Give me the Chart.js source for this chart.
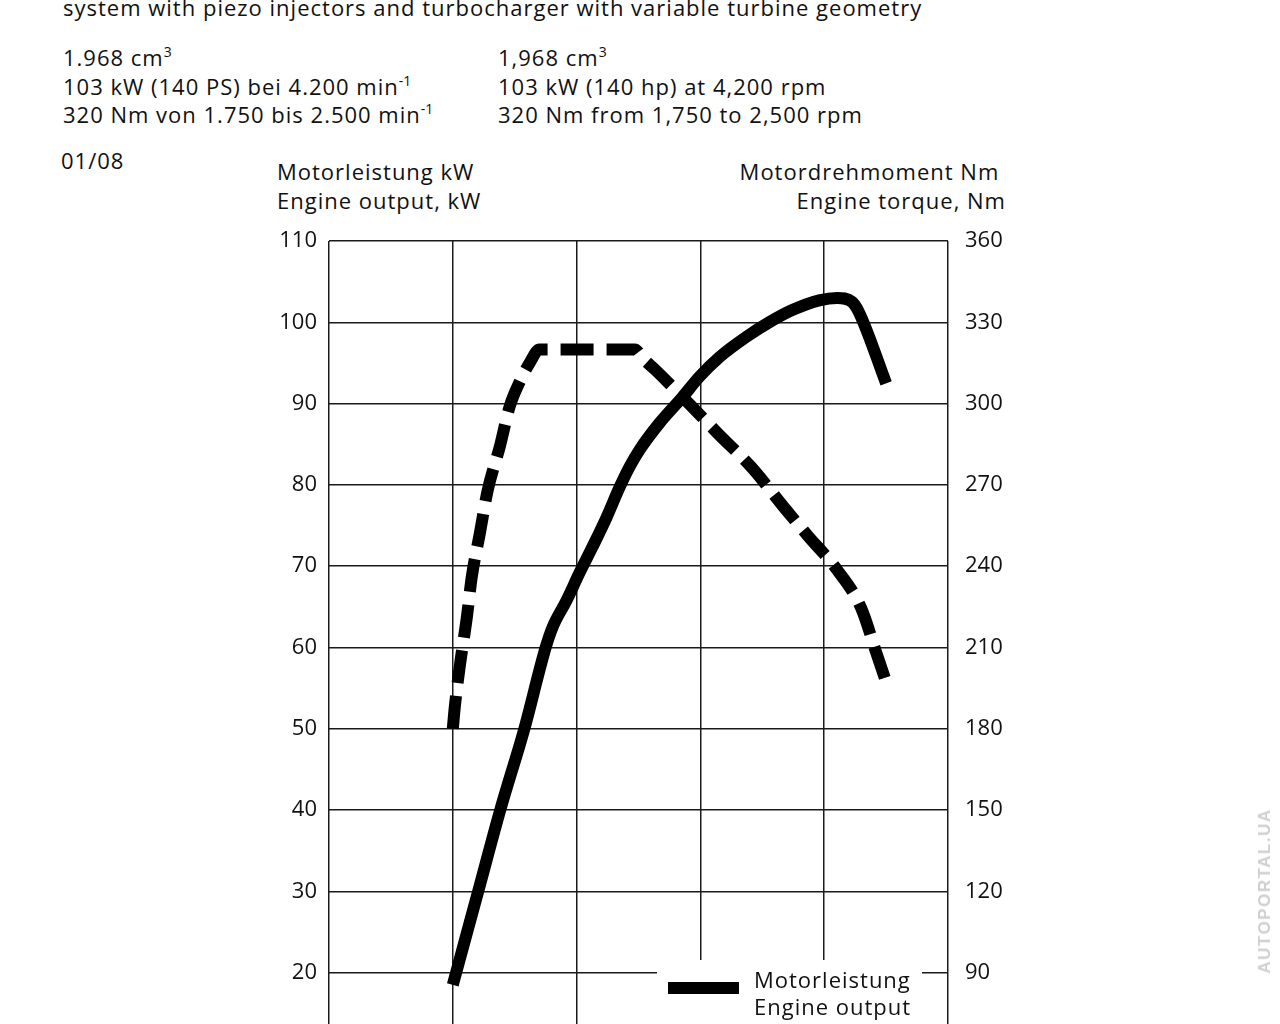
<!DOCTYPE html>
<html>
  <head>
    <script src="https://cdn.jsdelivr.net/npm/chart.js@4.4.0/dist/chart.umd.min.js"></script>
    <style>
      body { margin: 0; width: 1280px; height: 1024px; overflow: hidden; background: #fff; color: #111;
             font-family: 'Open Sans', sans-serif; }
      .t { position: absolute; font-size: 22px; line-height: 28.5px; white-space: nowrap; letter-spacing: 1px; }
      sup { font-size: 14px; line-height: 0; vertical-align: 9px; letter-spacing: 0; }
      #wrap { position: absolute; left: 0; top: 0; width: 1280px; height: 1120px; }
      #mark { position: absolute; left: 1265px; top: 891px; transform: translate(-50%, -50%) rotate(-90deg);
              font-family: 'Liberation Sans Narrow', 'Liberation Sans', sans-serif; font-weight: bold; font-size: 17px;
              letter-spacing: 1.5px; color: #cfcfcf; white-space: nowrap; }
    </style>
  </head>
  <body>
    <div class="t" style="left:63px; top:-7px;">system with piezo injectors and turbocharger with variable turbine geometry</div>
    <div class="t" style="left:63px; top:43px;">1.968 cm<sup>3</sup><br>103 kW (140 PS) bei 4.200 min<sup>-1</sup><br>320 Nm von 1.750 bis 2.500 min<sup>-1</sup></div>
    <div class="t" style="left:498px; top:43px;">1,968 cm<sup>3</sup><br>103 kW (140 hp) at 4,200 rpm<br>320 Nm from 1,750 to 2,500 rpm</div>
    <div class="t" style="left:61px; top:146px;">01/08</div>
    <div class="t" style="left:277px; top:157px; line-height:29px;">Motorleistung kW<br>Engine output, kW</div>
    <div class="t" style="right:274px; top:157px; line-height:29px; text-align:right;">Motordrehmoment Nm&nbsp;<br>Engine torque, Nm</div>
    <div id="wrap"><canvas id="engineChart"></canvas></div>
    <div id="mark">AUTOPORTAL.UA</div>
    <script>
      // engine speed, rpm
      var powerRpm = [1000, 1205, 1383, 1578, 1750, 1806, 1919, 2024, 2129, 2242, 2347, 2427, 2508, 2669,
                      2855, 2992, 3153, 3371, 3556, 3742, 3960, 4105, 4226, 4282, 4500];
      // engine output, kW
      var powerKw = [18.5, 30, 40, 50, 60, 62.5, 65.8, 69.2, 72.4, 76, 79.7, 82.2, 84.3, 87.6,
                     90.8, 93.3, 95.7, 98.2, 100, 101.5, 102.7, 103, 102.5, 101.2, 92.5];

      var torqueRpm = [1000, 1016, 1056, 1113, 1153, 1218, 1282, 1379, 1460, 1540, 1621, 1700,
                       2470, 2540, 2637, 2895, 3145, 3411, 3694, 3863, 4105, 4298, 4419, 4500];
      // engine torque, Nm
      var torqueNm = [180, 188, 203, 221, 236, 252, 268, 284, 299, 308, 315, 320,
                      320, 316.5, 312.4, 300.6, 288.8, 276.6, 260.7, 251.5, 238.6, 224.6, 208.3, 197.3];

      var kwTicks = [10, 110, 10];      // min, max, step
      var nmTicks = [60, 360, 30];
      var rpmTicks = [0, 5000, 1000];

      var legendLabels = [['Motorleistung', 'Engine output'], ['Motordrehmoment', 'Engine torque']];

      function toPoints(xs, ys) {
        return xs.map(function (x, i) { return { x: x, y: ys[i] }; });
      }

      // white legend box in the lower right corner of the plot
      var legendBox = {
        id: 'legendBox',
        afterDatasetsDraw: function (chart) {
          var ctx = chart.ctx;
          var area = chart.chartArea;
          var left = area.right - 291;
          var top = area.bottom - 94;
          ctx.save();
          ctx.fillStyle = '#fff';
          ctx.fillRect(left, top, 265, 200);
          chart.data.datasets.forEach(function (ds, i) {
            var y = top + 28 + i * 60;
            ctx.beginPath();
            ctx.lineWidth = ds.borderWidth;
            ctx.strokeStyle = ds.borderColor;
            ctx.lineCap = 'butt';
            ctx.setLineDash(ds.borderDash || []);
            ctx.moveTo(left + 11, y);
            ctx.lineTo(left + 82, y);
            ctx.stroke();
            ctx.setLineDash([]);
            ctx.fillStyle = '#111';
            ctx.font = '22px "Open Sans"';
            ctx.letterSpacing = '1px';
            ctx.textBaseline = 'alphabetic';
            ctx.fillText(ds.label[0], left + 97, y);
            ctx.fillText(ds.label[1], left + 97, y + 27);
          });
          ctx.restore();
        }
      };

      Chart.defaults.font.family = "'Open Sans', sans-serif";
      Chart.defaults.font.size = 22;
      Chart.defaults.color = '#111';

      var ctx = document.getElementById('engineChart').getContext('2d');
      var chart = new Chart(ctx, {
        type: 'line',
        data: {
          datasets: [{
            label: legendLabels[0],
            data: toPoints(powerRpm, powerKw),
            yAxisID: 'yKw',
            borderColor: '#000',
            borderWidth: 12,
            pointRadius: 0,
            cubicInterpolationMode: 'monotone',
            borderCapStyle: 'butt',
            borderJoinStyle: 'round'
          }, {
            label: legendLabels[1],
            data: toPoints(torqueRpm, torqueNm),
            yAxisID: 'yNm',
            borderColor: '#000',
            borderWidth: 12,
            borderDash: [33, 13],
            pointRadius: 0,
            cubicInterpolationMode: 'monotone',
            borderCapStyle: 'butt',
            borderJoinStyle: 'round'
          }]
        },
        options: {
          responsive: true,
          maintainAspectRatio: false,
          animation: false,
          layout: { padding: { top: 241, bottom: 0, left: 0, right: 0 } },
          plugins: { legend: { display: false }, tooltip: { enabled: false } },
          scales: {
            x: {
              type: 'linear',
              min: rpmTicks[0], max: rpmTicks[1],
              ticks: { stepSize: rpmTicks[2], padding: 10 },
              grid: { color: '#1a1a1a', lineWidth: 1.5, drawTicks: false },
              border: { display: false },
              afterFit: function (s) { s.height = 66; }
            },
            yKw: {
              position: 'left',
              min: kwTicks[0], max: kwTicks[1],
              ticks: { stepSize: kwTicks[2], padding: 12 },
              grid: { color: '#1a1a1a', lineWidth: 1.5, drawTicks: false },
              border: { display: false },
              afterFit: function (s) { s.width = 329; }
            },
            yNm: {
              position: 'right',
              min: nmTicks[0], max: nmTicks[1],
              ticks: { stepSize: nmTicks[2], padding: 17 },
              grid: { drawOnChartArea: false, drawTicks: false },
              border: { display: false },
              afterFit: function (s) { s.width = 332; }
            }
          }
        },
        plugins: [legendBox]
      });
    </script>
  </body>
</html>
